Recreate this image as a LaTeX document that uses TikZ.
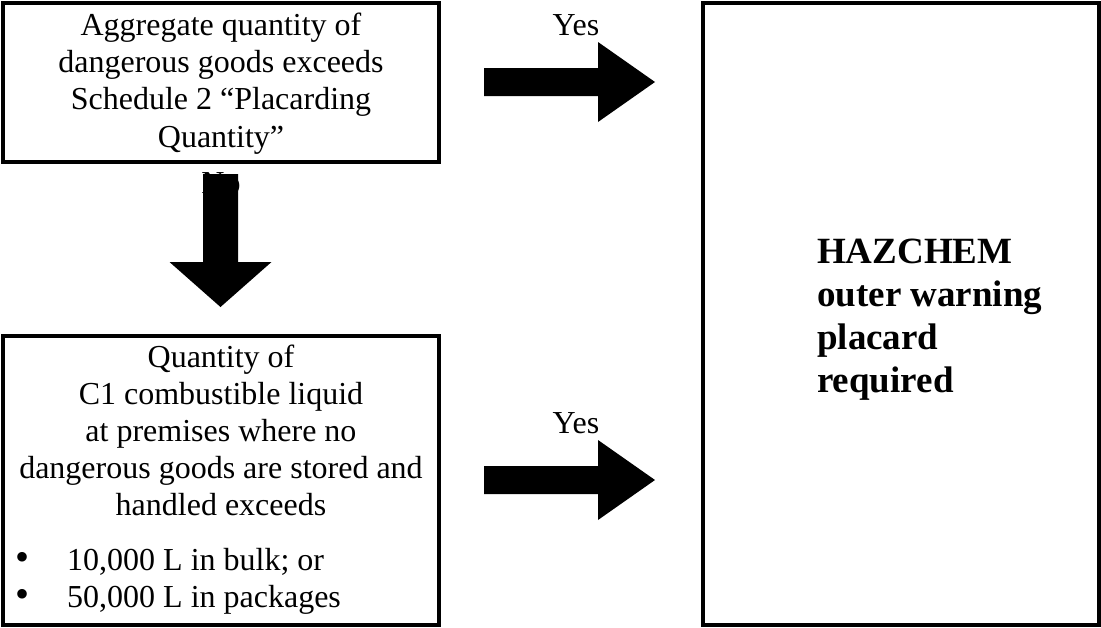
\documentclass[tikz,border=0pt]{standalone}
\usepackage{fontspec}
\setmainfont{Liberation Serif}
\begin{document}
\begin{tikzpicture}[x=1pt,y=-1pt,
  box/.style={draw=black,line width=4pt,inner sep=0pt,rectangle},
  body/.style={font=\fontsize{32}{37.3}\selectfont,inner sep=0pt,align=center},
  verdict/.style={font=\fontsize{37}{43}\selectfont\bfseries,inner sep=0pt,align=left},
  bulletmark/.style={font=\fontsize{40}{40}\selectfont,inner sep=0pt,anchor=base},
  blockarrow/.style={fill=black,draw=none},
  answer/.style={font=\fontsize{32}{32}\selectfont,inner sep=0pt,anchor=base}]
\useasboundingbox (0,0) rectangle (1101,627);

% decision boxes and result box
\node[box,minimum width=436pt,minimum height=159pt] (q1) at (221,82.5) {};
\node[box,minimum width=436pt,minimum height=289pt] (q2) at (221,480.5) {};
\node[box,minimum width=396pt,minimum height=622pt] (res) at (901,314) {};

% box texts (the base anchor sits on the last line)
\node[body,anchor=base] (q1text) at (221,147)
  {Aggregate quantity of\\dangerous goods exceeds\\ Schedule 2 “Placarding\\Quantity”};
\node[body,anchor=base,font=\fontsize{32}{37}\selectfont] (q2text) at (221,515)
  {Quantity of\\C1 combustible liquid\\at premises where no\\dangerous goods are stored and\\handled exceeds};
\node[bulletmark] (dot1) at (23,570) {•};
\node[body,anchor=base west] (item1) at (67,570) {10,000 L in bulk; or};
\node[bulletmark] (dot2) at (23,607) {•};
\node[body,anchor=base west] (item2) at (67,607) {50,000 L in packages};
\node[verdict,anchor=base west] (restext) at (817,392)
  {HAZCHEM\\outer warning\\placard\\required};

% answer labels
\node[answer] (yes1) at (576,35) {Yes};
\node[answer] (yes2) at (576,433) {Yes};
\node[answer] (no1) at (221,193) {No};

% block arrows
\fill[blockarrow] (484,68) -- (598,68) -- (598,42) -- (655,82) -- (598,122)
  -- (598,96) -- (484,96) -- cycle;
\fill[blockarrow] (484,466) -- (598,466) -- (598,440) -- (655,480) -- (598,520)
  -- (598,494) -- (484,494) -- cycle;
\fill[blockarrow] (203,174) -- (238,174) -- (238,262) -- (271.5,262)
  -- (220.5,307) -- (169.5,262) -- (203,262) -- cycle;
\end{tikzpicture}
\end{document}
